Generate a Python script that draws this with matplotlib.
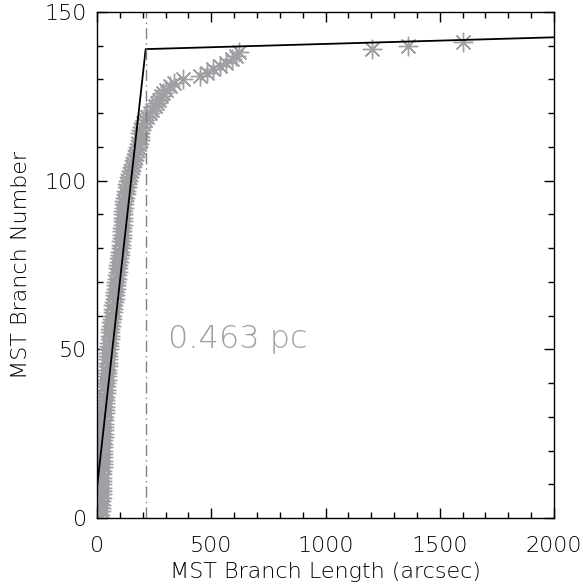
import matplotlib
matplotlib.use("Agg")
import matplotlib.pyplot as plt
from matplotlib.ticker import MultipleLocator

# MST branch lengths (arcsec), sorted; branch number = index
branch_length = [
    14, 15, 17, 18, 18, 19, 20, 20, 21, 22,
    22, 23, 23, 24, 24, 25, 25, 26, 26, 26,
    27, 27, 28, 28, 29, 29, 30, 30, 31, 32,
    32, 33, 33, 34, 35, 36, 37, 38, 39, 40,
    41, 42, 43, 44, 45, 46, 47, 48, 49, 50,
    51, 52, 54, 55, 56, 58, 59, 61, 62, 64,
    66, 68, 70, 72, 75, 77, 79, 80, 82, 84,
    85, 87, 89, 91, 92, 94, 96, 98, 100, 102,
    104, 106, 107, 108, 109, 110, 111, 112, 112, 113,
    114, 115, 116, 118, 120, 123, 126, 128, 131, 133,
    136, 140, 144, 148, 152, 157, 162, 167, 172, 176,
    180, 183, 186, 188, 190, 194, 198, 203, 208, 218,
    230, 242, 254, 262, 270, 278, 290, 300, 318, 338,
    375, 450, 482, 508, 538, 565, 592, 608, 620, 1203,
    1361, 1602,
]
branch_number = list(range(len(branch_length)))

# two-segment fit line
fit_x = [0, 213, 2000]
fit_y = [9, 139, 142.5]
cut_length = 213
label_text = "0.463 pc"

gray = "#a0a0a4"
font = {"family": "DejaVu Sans", "weight": "light"}

fig = plt.figure(figsize=(5.83, 5.86), dpi=100)
ax = fig.add_axes([0.1664, 0.1160, 0.7839, 0.8635])

ax.plot(branch_length, branch_number, linestyle="none", marker=(8, 2, 0),
        markersize=14, markeredgewidth=1.0, color=gray, markeredgecolor=gray)
ax.plot(fit_x, fit_y, color="black", linewidth=1.3)
ax.axvline(cut_length, color="#808080", linestyle="dashdot", linewidth=1.0,
           dashes=(8, 3, 1, 3))
ax.text(310, 53, label_text, fontsize=23, color=gray, va="center", ha="left", **font)

ax.set_xlim(0, 2000)
ax.set_ylim(0, 150)
ax.xaxis.set_major_locator(MultipleLocator(500))
ax.xaxis.set_minor_locator(MultipleLocator(100))
ax.yaxis.set_major_locator(MultipleLocator(50))
ax.yaxis.set_minor_locator(MultipleLocator(10))
ax.tick_params(which="both", direction="in", top=True, right=True, width=1.0,
               color="black")
ax.tick_params(which="major", length=7)
ax.tick_params(which="minor", length=4.5)
ax.tick_params(axis="x", which="major", pad=13, labelsize=16)
ax.tick_params(axis="y", which="major", pad=7, labelsize=16)
for lab in ax.get_xticklabels() + ax.get_yticklabels():
    lab.set_fontweight("light")
for sp in ax.spines.values():
    sp.set_linewidth(1.0)

ax.set_xlabel("MST Branch Length (arcsec)", fontsize=16, labelpad=4, **font)
ax.set_ylabel("MST Branch Number", fontsize=16, labelpad=10, **font)

fig.savefig("out.png", dpi=100)
